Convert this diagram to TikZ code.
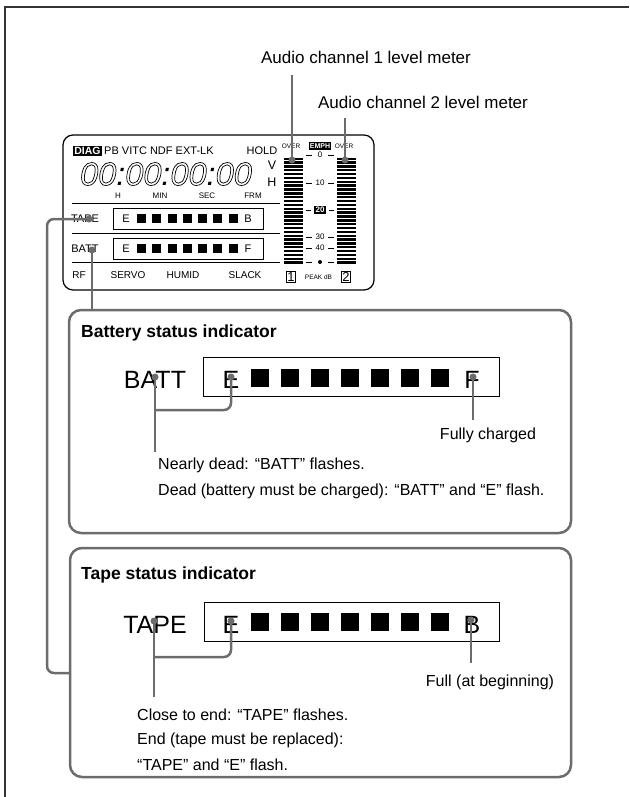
\documentclass[tikz,border=0pt]{standalone}
\usepackage{fontspec}
\setmainfont{Liberation Sans}
\definecolor{leadgray}{HTML}{6C6C6C}
\definecolor{framegray}{HTML}{333333}
\newcommand{\outlinetext}[1]{\special{pdf:code 1 Tr 0.7 w}#1\special{pdf:code 0 Tr}}
\begin{document}
\begin{tikzpicture}[x=1pt,y=-1pt,
  frame/.style={draw=framegray, line width=1.4pt},
  lead/.style={draw=leadgray, line width=2.5pt, rounded corners=7pt},
  dot/.style={circle, fill=leadgray, inner sep=0pt, minimum size=7pt},
  panel/.style={draw=leadgray, line width=2.5pt, rounded corners=12pt},
  lbl/.style={inner sep=0pt, font=\fontsize{16}{19}\selectfont},
  toplbl/.style={inner sep=0pt, font=\fontsize{17}{20}\selectfont},
  ttl/.style={inner sep=0pt, anchor=west, font=\fontsize{17.5}{20}\selectfont\bfseries},
  big/.style={inner sep=0pt, font=\fontsize{25}{28}\selectfont},
  tiny/.style={inner sep=0pt, font=\fontsize{11}{12}\selectfont},
  micro/.style={inner sep=0pt, font=\fontsize{8}{9}\selectfont},
  nano/.style={inner sep=0pt, font=\fontsize{6.5}{7}\selectfont},
  inv/.style={fill=black, text=white, inner sep=1.2pt, font=\fontsize{7}{8}\selectfont\bfseries},
  lcdline/.style={draw=black, line width=0.8pt},
  smallbox/.style={draw=black, line width=0.8pt},
  bigbox/.style={draw=black, line width=1pt}
]
\useasboundingbox (0,0) rectangle (629,797);

% page frame
\draw[frame] (5,797) -- (5,7) -- (629,7);

% audio labels
\node[toplbl] (a1) at (366,57) {Audio channel 1 level meter};
\node[toplbl] (a2) at (423,102) {Audio channel 2 level meter};

% LCD panel
\draw[draw=black, line width=1.2pt, rounded corners=10pt] (63,135) rectangle (374,290);
\node[fill=black, text=white, inner sep=1.3pt, font=\fontsize{10.5}{11}\selectfont\bfseries] (diag) at (87.5,151) {DIAG};
\node[tiny, anchor=west] (modes) at (104,151) {PB VITC NDF EXT-LK};
\node[tiny] (hold) at (262,151) {HOLD};
\node[inner sep=0pt, font=\fontsize{32.5}{33}\selectfont\itshape] (tc) at (166,174) {\outlinetext{00}:\outlinetext{00}:\outlinetext{00}:\outlinetext{00}};
\node[inner sep=0pt, align=center, font=\fontsize{12.5}{17}\selectfont] (vh) at (272,174) {V\\H};
\node[micro] (lh) at (118,196) {H};
\node[micro] (lmin) at (160,196) {MIN};
\node[micro] (lsec) at (207,196) {SEC};
\node[micro] (lfrm) at (253,196) {FRM};
\draw[lcdline] (72,203) -- (280,203);
\draw[lcdline] (72,233) -- (280,233);
\draw[lcdline] (72,262) -- (280,262);

% small tape row
\node[tiny] (stape) at (85,219) {TAPE};
\draw[smallbox] (113,208) rectangle (263,229);
\node[tiny] (stE) at (126,219) {E};
\foreach \k in {0,...,6} \fill (137+15.25*\k,214) rectangle +(9,9);
\node[tiny] (stB) at (248,219) {B};

% small batt row
\node[tiny] (sbatt) at (85,248.5) {BATT};
\draw[smallbox] (113,238) rectangle (263,259);
\node[tiny] (sbE) at (126,248.5) {E};
\foreach \k in {0,...,6} \fill (137+15.25*\k,244) rectangle +(9,9);
\node[tiny] (sbF) at (248,248.5) {F};

% bottom row
\node[inner sep=0pt, font=\fontsize{10}{11}\selectfont] (rf) at (79,275) {RF};
\node[inner sep=0pt, font=\fontsize{10}{11}\selectfont] (servo) at (128,275) {SERVO};
\node[inner sep=0pt, font=\fontsize{10}{11}\selectfont] (humid) at (183,275) {HUMID};
\node[inner sep=0pt, font=\fontsize{10}{11}\selectfont] (slack) at (245,275) {SLACK};

% level meters
\foreach \i in {0,...,27} {
  \fill (284,157.5+3.85*\i) rectangle (303,157.5+3.85*\i+2.4);
  \fill (337,157.5+3.85*\i) rectangle (356,157.5+3.85*\i+2.4);
}
\node[nano] (over1) at (291,146) {OVER};
\node[nano] (over2) at (344,146) {OVER};
\node[inv] (emph) at (320,146) {EMPH};
\foreach \y/\t in {155/0,183/10,237/30,248/40} {
  \node[inner sep=0pt, font=\fontsize{8}{9}\selectfont] at (320,\y) {\t};
  \draw[line width=0.6pt] (306,\y) -- (312,\y) (328,\y) -- (334,\y);
}
\node[inv, font=\fontsize{8}{9}\selectfont\bfseries] (m20) at (320,210) {20};
\draw[line width=0.6pt] (306,210) -- (311,210) (329,210) -- (334,210);
\fill (320,262) circle (2pt);
\draw[line width=0.6pt] (306,262) -- (312,262) (328,262) -- (334,262);
\node[draw=black, line width=0.8pt, inner sep=0.8pt, font=\fontsize{13}{13}\selectfont] (ch1) at (291,277) {1};
\node[nano] (peak) at (318.5,277.5) {PEAK dB};
\node[draw=black, line width=0.8pt, inner sep=0.8pt, font=\fontsize{13}{13}\selectfont] (ch2) at (346,277) {2};

% leaders from meters
\node[dot] (m1) at (292,160) {};
\node[dot] (m2) at (345,160) {};
\coordinate (m1top) at (292,75);
\coordinate (m2top) at (345,118);
\draw[lead] (m1.center) -- (m1top);
\draw[lead] (m2.center) -- (m2top);

% battery panel
\draw[panel] (69,310) rectangle (571,533);
\node[ttl] (bttl) at (81,333) {Battery status indicator};
\draw[bigbox] (203,357) rectangle (499,396);
\node[big] (bBATT) at (155,380) {BATT};
\node[big] (bE) at (231,380) {E};
\foreach \k in {0,...,6} \fill (251+30*\k,369) rectangle +(18,18);
\node[big] (bF) at (472,380) {F};
\node[lbl, anchor=west] (bt1) at (158,465) {Nearly dead: “BATT” flashes.};
\node[lbl, anchor=west] (bt2) at (158,491) {Dead (battery must be charged): “BATT” and “E” flash.};
\node[lbl] (bfull) at (488,435) {Fully charged};
\node[dot] (bd1) at (155,377) {};
\node[dot] (bd2) at (231,377) {};
\node[dot] (bd3) at (473,377) {};
\coordinate (bd1end) at (155,452);
\coordinate (bd3end) at (473,420);
\draw[lead] (bd1.center) -- (bd1end);
\draw[lead] (bd2.center) |- (bd1 |- 0,410);
\draw[lead] (bd3.center) -- (bd3end);

% small BATT to battery panel
\node[dot] (sbd) at (92,250) {};
\coordinate (bpanelTop) at (92,310);
\draw[lead] (sbd.center) -- (bpanelTop);

% tape panel
\draw[panel] (70,548) rectangle (571,777);
\node[ttl] (tttl) at (81,575) {Tape status indicator};
\draw[bigbox] (204,602) rectangle (499,641);
\node[big] (tTAPE) at (155,625) {TAPE};
\node[big] (tE) at (231,625) {E};
\foreach \k in {0,...,6} \fill (251+30*\k,613) rectangle +(18,18);
\node[big] (tB) at (472,625) {B};
\node[lbl] (tfull) at (490,682) {Full (at beginning)};
\node[lbl, anchor=west] (tt1) at (137,715) {Close to end: “TAPE” flashes.};
\node[lbl, anchor=west] (tt2) at (137,740) {End (tape must be replaced):};
\node[lbl, anchor=west] (tt3) at (137,765) {“TAPE” and “E” flash.};
\node[dot] (td1) at (154,621) {};
\node[dot] (td2) at (231,621) {};
\node[dot] (td3) at (471,620) {};
\coordinate (td1end) at (154,697);
\coordinate (td3end) at (471,663);
\draw[lead] (td1.center) -- (td1end);
\draw[lead] (td2.center) |- (td1 |- 0,657);
\draw[lead] (td3.center) -- (td3end);

% small TAPE to tape panel
\node[dot] (std) at (89,219) {};
\coordinate (tpanelLeft) at (70,673);
\draw[lead] (std.center) -- (47,219) -- (47,673) -- (tpanelLeft);
\end{tikzpicture}
\end{document}
